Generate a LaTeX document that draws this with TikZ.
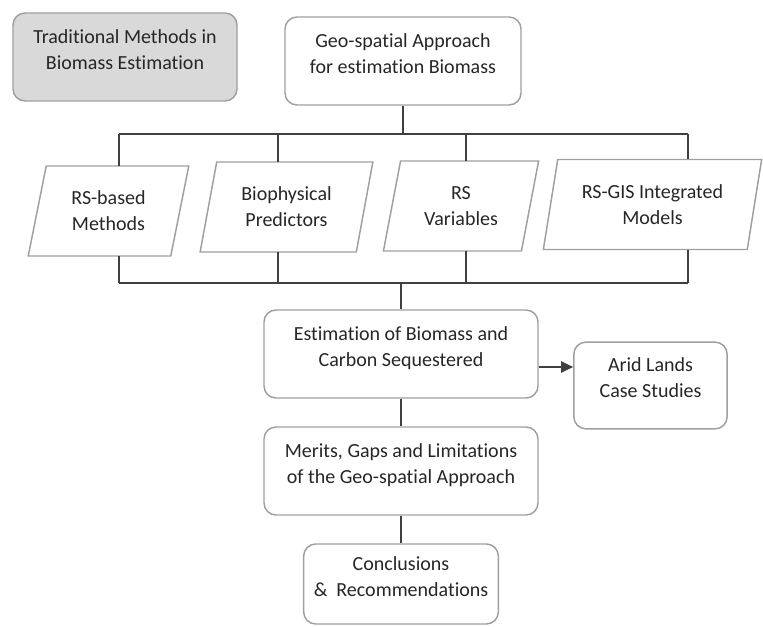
\documentclass[tikz,border=0pt]{standalone}
\usepackage{fontspec}
\setmainfont{Carlito}[Ligatures=NoCommon]
\usetikzlibrary{shapes.geometric,positioning,calc,arrows.meta}

% keeps the text of a box a little above its middle
\newcommand{\lift}[1]{\raisebox{0pt}[\height][\dimexpr\depth+9pt\relax]{\begin{tabular}{@{}c@{}}#1\end{tabular}}}

\begin{document}
\begin{tikzpicture}[x=0.75pt, y=-0.75pt,
        font=\fontsize{15}{19.5}\selectfont,
        rbox/.style={draw=gray!75, line width=1.1pt, rounded corners=9pt,
            text=black!85, minimum height=66pt, inner sep=0pt},
        pbox/.style={trapezium, trapezium left angle=75, trapezium right angle=105,
            trapezium stretches=true, draw=gray!75, line width=1.1pt,
            text=black!85, minimum height=67.5pt, inner sep=0pt, outer sep=0pt,
            align=center},
        link/.style={draw=black!75, line width=0.9pt},
        arr/.style={link, -{Triangle[length=9pt,width=8.5pt]}}
    ]
        \useasboundingbox (0,0) rectangle (763,627);

        % Top row
        \node[rbox, fill=gray!30, minimum width=168pt] (trad) at (125,57)
            {\lift{Traditional Methods in\\Biomass Estimation}};
        \node[rbox, minimum width=177pt] (geo) at (403,61)
            {\lift{Geo-spatial Approach\\for estimation Biomass}};

        % Parallelograms
        \node[pbox, minimum width=120.75pt] (rsm) at (108.5,211) {RS-based\\Methods};
        \node[pbox, minimum width=129.75pt] (bio) at (286.5,207) {Biophysical\\Predictors};
        \node[pbox, minimum width=117pt] (rsv) at (461,206) {RS\\Variables};
        \node[pbox, minimum width=164pt] (gis) at (652.5,204.5) {RS-GIS Integrated\\Models};

        % Lower boxes
        \node[rbox, minimum width=205.5pt] (est) at (401,354)
            {\lift{Estimation of Biomass and\\Carbon Sequestered}};
        \node[rbox, minimum width=115pt, minimum height=65pt] (arid) at (650.5,385.5)
            {\lift{Arid Lands\\Case Studies}};
        \node[rbox, minimum width=205.5pt] (mer) at (401,471)
            {\lift{Merits, Gaps and Limitations\\of the Geo-spatial Approach}};
        \node[rbox, minimum width=146pt, minimum height=60pt] (con) at (401,584)
            {\lift{Conclusions\\\&\ \ Recommendations}};

        % Bus lines
        \coordinate (t1) at (119,134);
        \coordinate (t2) at (278,134);
        \coordinate (t3) at (466,134);
        \coordinate (t4) at (688,134);
        \coordinate (b1) at (119,283);
        \coordinate (b2) at (278,283);
        \coordinate (b3) at (466,283);
        \coordinate (b4) at (688,283);

        \path[link] (geo.south) -- (geo.south |- t1);
        \path[link] (t1) -- (t4);
        \path[link] (t1) -- (t1 |- rsm.north);
        \path[link] (t2) -- (t2 |- bio.north);
        \path[link] (t3) -- (t3 |- rsv.north);
        \path[link] (t4) -- (t4 |- gis.north);

        \path[link] (b1) -- (b4);
        \path[link] (b1) -- (b1 |- rsm.south);
        \path[link] (b2) -- (b2 |- bio.south);
        \path[link] (b3) -- (b3 |- rsv.south);
        \path[link] (b4) -- (b4 |- gis.south);
        \path[link] (est.north |- b1) -- (est.north);

        \path[arr] ([yshift=-9.75pt]est.east) -- ([yshift=-9.75pt]est.east -| arid.west);
        \path[link] (est.south) -- (mer.north);
        \path[link] (mer.south) -- (con.north);
\end{tikzpicture}
\end{document}
